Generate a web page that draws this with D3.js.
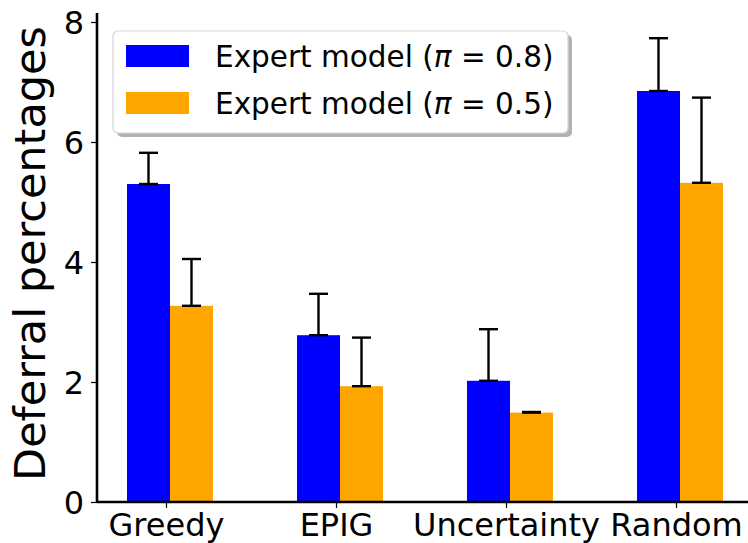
<!DOCTYPE html>
<html>
<head>
<script src="https://d3js.org/d3.v7.min.js"></script>
<style>
  body { margin: 0; background: #fff; }
  text { font-family: "DejaVu Sans", sans-serif; fill: #000; }
</style>
</head>
<body>
<svg id="chart" width="748" height="543"></svg>
<script>
var categories = ['Greedy', 'EPIG', 'Uncertainty', 'Random'];
var seriesNames = ['0.8', '0.5'];
var colors = ['#0000ff', '#ffa500'];
var values08 = [5.30, 2.78, 2.02, 6.85];
var errors08 = [0.52, 0.69, 0.86, 0.88];
var values05 = [3.27, 1.93, 1.49, 5.32];
var errors05 = [0.78, 0.81, 0.01, 1.42];
var yTicks = [0, 2, 4, 6, 8];

var series = [
  {name: seriesNames[0], values: values08, errors: errors08, color: colors[0], side: -1},
  {name: seriesNames[1], values: values05, errors: errors05, color: colors[1], side: 0}
];

var svg = d3.select('#chart');

var x = d3.scaleLinear().domain([0, 3]).range([170, 680]);
var y = d3.scaleLinear().domain([0, 8.15]).range([502, 13]);
var barW = 43;

// bars
series.forEach(function(s) {
  svg.append('g').selectAll('rect')
    .data(s.values)
    .enter().append('rect')
    .attr('x', function(d, i) { return x(i) + s.side * barW; })
    .attr('y', function(d) { return y(d); })
    .attr('width', barW)
    .attr('height', function(d) { return y(0) - y(d); })
    .attr('fill', s.color);
});

// error bars (upper only, caps at both ends)
series.forEach(function(s) {
  var g = svg.append('g').attr('stroke', '#000').attr('stroke-width', 2.4);
  s.values.forEach(function(v, i) {
    var cx = x(i) + s.side * barW + barW / 2;
    g.append('line').attr('x1', cx).attr('x2', cx)
      .attr('y1', y(v)).attr('y2', y(v + s.errors[i]));
    [v, v + s.errors[i]].forEach(function(t) {
      g.append('line').attr('x1', cx - 9.5).attr('x2', cx + 9.5)
        .attr('y1', y(t)).attr('y2', y(t));
    });
  });
});

// y axis
var yAxis = svg.append('g')
  .attr('transform', 'translate(97,0)')
  .call(d3.axisLeft(y).tickValues(yTicks).tickSize(6).tickPadding(7).tickFormat(d3.format('d')));
yAxis.select('.domain').attr('stroke', '#000').attr('stroke-width', 2.6)
  .attr('d', 'M0,' + y(0) + 'V' + y(8.15));
yAxis.selectAll('.tick line').attr('stroke', '#000').attr('stroke-width', 1.2);
yAxis.selectAll('.tick text').style('font-size', '32px').attr('dy', '0.36em');

// x axis
var xAxis = svg.append('g')
  .attr('transform', 'translate(0,' + y(0) + ')')
  .call(d3.axisBottom(d3.scaleLinear().domain([0, 3]).range([x(0) - 4, x(3) - 4]))
    .tickValues([0, 1, 2, 3]).tickSize(6).tickPadding(5)
    .tickFormat(function(d) { return categories[d]; }));
xAxis.select('.domain').attr('stroke', '#000').attr('stroke-width', 2.6)
  .attr('d', 'M97,0H748');
xAxis.selectAll('.tick line').attr('stroke', '#000').attr('stroke-width', 1.2);
xAxis.selectAll('.tick text').style('font-size', '32px').attr('dy', '0.71em');

// y label
svg.append('text')
  .attr('transform', 'translate(45,' + ((y(0) + y(8.15)) / 2 - 4) + ') rotate(-90)')
  .attr('text-anchor', 'middle')
  .style('font-size', '43px')
  .text('Deferral percentages');

// legend
var leg = svg.append('g');
leg.append('rect').attr('x', 117).attr('y', 35).attr('width', 455).attr('height', 102)
  .attr('rx', 5).attr('fill', '#b2b2b2');
leg.append('rect').attr('x', 113).attr('y', 31).attr('width', 455).attr('height', 102)
  .attr('rx', 5).attr('fill', '#fff').attr('stroke', '#d6d6d6').attr('stroke-width', 1.2);
series.forEach(function(s, i) {
  var ly = 45 + i * 47;
  leg.append('rect').attr('x', 126).attr('y', ly).attr('width', 63).attr('height', 22)
    .attr('fill', s.color);
  var t = leg.append('text').attr('x', 215).attr('y', ly + 22).style('font-size', '29.5px');
  t.append('tspan').text('Expert model (');
  t.append('tspan').style('font-style', 'italic').text('\u03c0');
  t.append('tspan').text(' = ' + s.name + ')');
});
</script>
</body>
</html>
